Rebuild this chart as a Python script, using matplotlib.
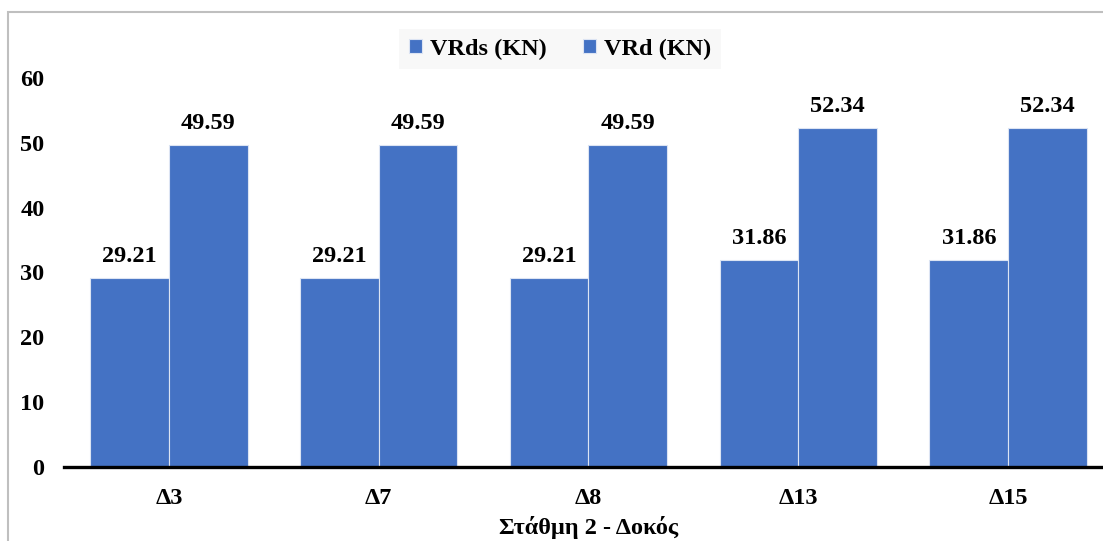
import matplotlib.pyplot as plt
import numpy as np
from matplotlib.patches import Rectangle

categories = ["Δ3", "Δ7", "Δ8", "Δ13", "Δ15"]
vrds = [29.21, 29.21, 29.21, 31.86, 31.86]
vrd = [49.59, 49.59, 49.59, 52.34, 52.34]
series_names = ["VRds (KN)", "VRd (KN)"]
yticks = [0, 10, 20, 30, 40, 50, 60]

plt.rcParams['font.family'] = ['Liberation Serif', 'DejaVu Serif']
plt.rcParams['font.weight'] = 'bold'

blue = "#4472C4"
fs = 17.5
W, H = 1103, 541
fig = plt.figure(figsize=(W / 100, H / 100), dpi=100)
ax = fig.add_axes([64 / W, (541 - 467) / H, (1113 - 64) / W, (467 - 78) / H])

x = np.arange(len(categories))
bw = 0.375
b1 = ax.bar(x - bw / 2, vrds, bw, color=blue, edgecolor="#DCE4F3", linewidth=0.8, label=series_names[0])
b2 = ax.bar(x + bw / 2, vrd, bw, color=blue, edgecolor="#DCE4F3", linewidth=0.8, label=series_names[1])

for bars, vals in ((b1, vrds), (b2, vrd)):
    for rect, v in zip(bars, vals):
        ax.annotate(f"{v:.2f}", (rect.get_x() + rect.get_width() / 2, v),
                    xytext=(0, 8), textcoords="offset points",
                    ha="center", va="bottom", fontsize=fs, fontweight="bold")

ax.set_xlim(-0.5, 4.5)
ax.set_ylim(0, 60)
ax.set_yticks(yticks)
ax.set_xticks(x)
ax.set_xticklabels(categories)
ax.tick_params(axis="both", length=0, labelsize=fs)
ax.tick_params(axis="y", pad=14)
ax.tick_params(axis="x", pad=15)
for lab in ax.get_xticklabels() + ax.get_yticklabels():
    lab.set_fontweight("bold")

for side in ("top", "right", "left"):
    ax.spines[side].set_visible(False)
ax.spines["bottom"].set_linewidth(2.4)
ax.spines["bottom"].set_color("black")

ax.set_xlabel("Στάθμη 2 - Δοκός", fontsize=fs, fontweight="bold", labelpad=5)

leg = ax.legend(loc="center", bbox_to_anchor=(560 / W, 1 - 49 / H), bbox_transform=fig.transFigure,
                ncol=2, frameon=True, fancybox=False, prop={"size": fs, "weight": "bold"},
                handlelength=0.55, handleheight=0.55, handletextpad=0.3, columnspacing=1.5,
                borderpad=0.4)
leg.get_frame().set_facecolor("#F7F7F7")
leg.get_frame().set_edgecolor("none")

# outer chart border
fig.patches.append(Rectangle((8 / W, -0.1), 1.2, (541 - 12) / H + 0.1, transform=fig.transFigure,
                             fill=False, edgecolor="#BFBFBF", linewidth=1.5, clip_on=False))

fig.savefig("out.png", dpi=100)
